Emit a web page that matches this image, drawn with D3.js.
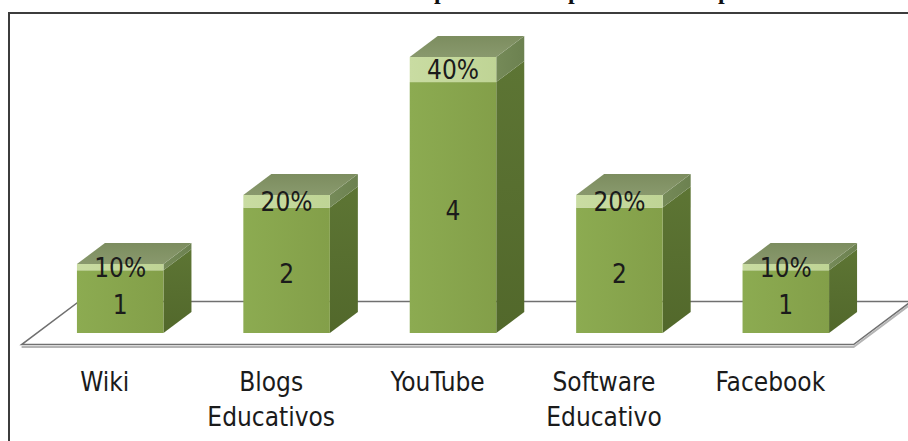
<!DOCTYPE html>
<html>
<head>
<meta charset="utf-8">
<script src="https://cdn.jsdelivr.net/npm/d3@7"></script>
<style>
  body { margin: 0; background: #fff; }
  svg { display: block; }
  text { font-family: "Liberation Sans Narrow", "DejaVu Sans Condensed", sans-serif; fill: #1b1b1b; }
</style>
</head>
<body>
<div id="chart"></div>
<script>
const categories = ["Wiki", "Blogs Educativos", "YouTube", "Software Educativo", "Facebook"];
const labelLines = [["Wiki"], ["Blogs", "Educativos"], ["YouTube"], ["Software", "Educativo"], ["Facebook"]];
const counts = [1, 2, 4, 2, 1];
const shares = [0.1, 0.2, 0.4, 0.2, 0.1];
const titleLetters = ["p", "p", "p"];

const w = 908;
const h = 441;
const depth = { x: 28, y: -21 }; // 3d offset of the columns

const svg = d3.select("#chart")
  .append("svg")
  .attr("width", w)
  .attr("height", h);

const defs = svg.append("defs");
const grad = (id, c1, c2, vertical) => {
  const g = defs.append("linearGradient").attr("id", id)
    .attr("x1", 0).attr("y1", 0)
    .attr("x2", vertical ? 0 : 1).attr("y2", vertical ? 1 : 0);
  g.append("stop").attr("offset", "0%").attr("stop-color", c1);
  g.append("stop").attr("offset", "100%").attr("stop-color", c2);
};
grad("frontMain", "#8cab51", "#839f49", false);
grad("sideMain", "#5d7534", "#52682b", true);
grad("frontTop", "#c9dca2", "#bfd495", false);
grad("sideTop", "#758a58", "#6c8150", false);
grad("topFace", "#7c8d5f", "#89996d", true);

// title line, cut off by the top of the picture
svg.append("text")
  .selectAll("tspan")
  .data(titleLetters)
  .enter()
  .append("tspan")
  .attr("x", (d, i) => [434, 568, 718][i])
  .attr("y", -1)
  .style("font-family", "'Liberation Serif', serif")
  .style("font-weight", "bold")
  .style("font-size", "24px")
  .style("fill", "#111")
  .text(d => d);

// frame
svg.append("path")
  .attr("d", `M9,${h} V13 H${w}`)
  .attr("fill", "none")
  .attr("stroke", "#3c3c3c")
  .attr("stroke-width", 2);

const x = d3.scaleBand()
  .domain(categories)
  .range([37, 869])
  .paddingInner(0.48)
  .paddingOuter(0.24);

const y = d3.scaleLinear()
  .domain([0, 4.4])
  .range([333, 57]);

// floor
const fF = { x: -0.55 * depth.x, y: -0.55 * depth.y };
const fB = { x: 1.5 * depth.x, y: 1.5 * depth.y };
const x0 = x.range()[0], x1 = x.range()[1], y0 = y(0);
svg.append("path")
  .attr("d", `M${x0 + fF.x},${y0 + fF.y + 2.5} L${x1 + fF.x},${y0 + fF.y + 2.5} L${x1 + fB.x},${y0 + fB.y + 2.5}`)
  .attr("fill", "none")
  .attr("stroke", "#b5b5b5")
  .attr("stroke-width", 2);
svg.append("path")
  .attr("d", `M${x0 + fF.x},${y0 + fF.y} L${x1 + fF.x},${y0 + fF.y} L${x1 + fB.x},${y0 + fB.y} L${x0 + fB.x},${y0 + fB.y} Z`)
  .attr("fill", "#fff")
  .attr("stroke", "#707070")
  .attr("stroke-width", 1.5);

const rows = categories.map((c, i) => ({ cat: c, count: counts[i], share: shares[i] }));
const stacked = d3.stack().keys(["count", "share"])(rows);

const face = (pts) => "M" + pts.map(p => p.join(",")).join("L") + "Z";

const bars = svg.selectAll("g.bar")
  .data(rows)
  .enter()
  .append("g")
  .attr("class", "bar");

stacked.forEach((layer, li) => {
  bars.each(function (d, i) {
    const seg = layer[i];
    const g = d3.select(this);
    const left = x(d.cat), right = left + x.bandwidth();
    const top = y(seg[1]), bot = y(seg[0]);
    g.append("path")
      .attr("d", face([[right, top], [right + depth.x, top + depth.y], [right + depth.x, bot + depth.y], [right, bot]]))
      .attr("fill", li === 0 ? "url(#sideMain)" : "url(#sideTop)");
    g.append("rect")
      .attr("x", left)
      .attr("y", top)
      .attr("width", x.bandwidth())
      .attr("height", bot - top)
      .attr("fill", li === 0 ? "url(#frontMain)" : "url(#frontTop)");
    if (li === 1) {
      g.append("path")
        .attr("d", face([[left, top], [left + depth.x, top + depth.y], [right + depth.x, top + depth.y], [right, top]]))
        .attr("fill", "url(#topFace)");
    }
  });
});

// value labels
bars.append("text")
  .attr("x", d => x(d.cat) + x.bandwidth() / 2)
  .attr("y", d => (y(0) + y(d.count)) / 2 + 5)
  .attr("text-anchor", "middle")
  .attr("dominant-baseline", "middle")
  .style("font-size", "26px")
  .text(d => d.count);

bars.append("text")
  .attr("x", d => x(d.cat) + x.bandwidth() / 2)
  .attr("y", d => (y(d.count) + y(d.count + d.share)) / 2 + 2)
  .attr("text-anchor", "middle")
  .attr("dominant-baseline", "middle")
  .style("font-size", "26px")
  .text(d => d3.format(".0%")(d.share));

// category labels
const lab = svg.selectAll("text.cat")
  .data(categories)
  .enter()
  .append("text")
  .attr("class", "cat")
  .attr("text-anchor", "middle")
  .style("font-size", "26px");

lab.selectAll("tspan")
  .data((d, i) => labelLines[i].map(t => ({ t, c: d })))
  .enter()
  .append("tspan")
  .attr("x", d => x(d.c) + x.bandwidth() / 2 + fF.x)
  .attr("y", (d, i) => 391 + i * 35)
  .text(d => d.t);
</script>
</body>
</html>
